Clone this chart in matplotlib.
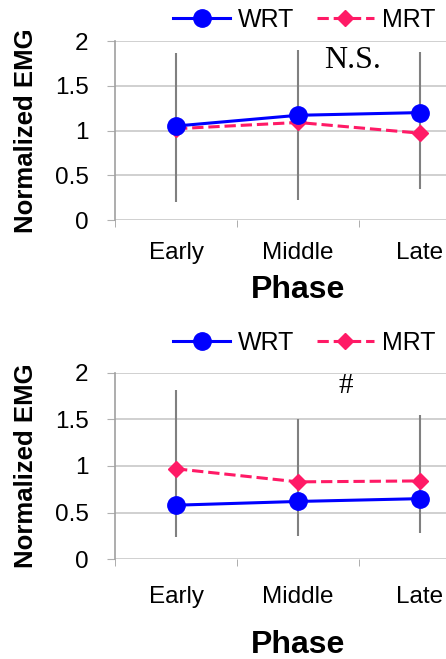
import numpy as np
import matplotlib.pyplot as plt

plt.rcParams['font.family'] = ['Liberation Sans', 'DejaVu Sans']

phases = ["Early", "Middle", "Late"]

# gornji graf
wrt_top = [1.05, 1.17, 1.20]
mrt_top = [1.02, 1.09, 0.97]
err_lo_top = [0.20, 0.22, 0.35]
err_hi_top = [1.87, 1.90, 1.88]

# donji graf
wrt_bot = [0.58, 0.62, 0.65]
mrt_bot = [0.97, 0.83, 0.84]
err_lo_bot = [0.24, 0.25, 0.28]
err_hi_bot = [1.81, 1.50, 1.55]

W, H = 446, 659
fig = plt.figure(figsize=(W/100, H/100), dpi=100)

def panel(rect, wrt, mrt, lo, hi, note, note_xy, note_font, leg_y, tick_pad, lab_pad):
    ax = fig.add_axes(rect)
    x = np.arange(len(phases))
    ax.vlines(x, lo, hi, color='#808080', lw=1.5, zorder=2)
    ax.plot(x, wrt, '-o', color='#0000ff', lw=2.2, ms=12.5, label='WRT', zorder=4)
    ax.plot(x, mrt, '--D', color='#ff1a66', lw=2.2, ms=8.5, label='MRT', zorder=3)
    ax.set_xlim(-0.5, 2.5)
    ax.set_ylim(0, 2)
    ax.set_yticks([0, 0.5, 1, 1.5, 2])
    ax.set_yticklabels(['0', '0.5', '1', '1.5', '2'], fontsize=17.5)
    ax.set_xticks(x)
    ax.set_xticklabels(phases, fontsize=17.5)
    ax.set_xticks([-0.5, 0.5, 1.5], minor=True)
    ax.tick_params(axis='x', which='major', length=0, pad=tick_pad)
    ax.tick_params(axis='x', which='minor', length=5, color='#a0a0a0', direction='out')
    ax.tick_params(axis='y', length=6, color='#b0b0b0', pad=13)
    ax.grid(axis='y', color='#c8c8c8', lw=1.2)
    ax.set_axisbelow(True)
    for s in ['top', 'right', 'bottom']:
        ax.spines[s].set_visible(False)
    ax.spines['left'].set_color('#a0a0a0')
    ax.spines['left'].set_linewidth(1.2)
    ax.set_ylabel("Normalized EMG", fontsize=18.5, fontweight='bold', labelpad=12)
    ax.set_xlabel("Phase", fontsize=23, fontweight='bold', labelpad=lab_pad)
    ax.text(note_xy[0], note_xy[1], note, fontsize=note_font, family='Liberation Serif',
            ha='center', va='center')
    ax.legend(loc='center', bbox_to_anchor=(304/W, leg_y), bbox_transform=fig.transFigure,
              ncol=2, frameon=False, fontsize=18, handlelength=2.3, columnspacing=0.9,
              handletextpad=0.3, borderpad=0)
    return ax

panel([115/W, 1-220/H, 366/W, 179/H], wrt_top, mrt_top, err_lo_top, err_hi_top,
      "N.S.", (1.45, 1.78), 23, 1-20/H, 16, 8)
panel([115/W, 1-559.3/H, 366/W, 186.6/H], wrt_bot, mrt_bot, err_lo_bot, err_hi_bot,
      "#", (1.39, 1.86), 21, 1-343/H, 19, 16)

fig.savefig("out.png", dpi=100)
